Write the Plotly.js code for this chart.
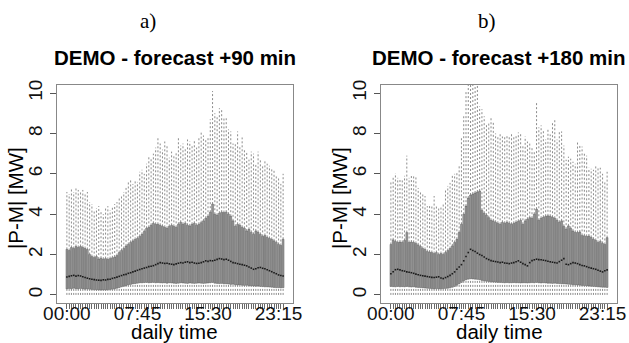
<!DOCTYPE html>
<html>
<head>
<meta charset="utf-8">
<script src="https://cdn.plot.ly/plotly-3.0.1.min.js"></script>
<style>
  html, body { margin: 0; padding: 0; background: #fff; }
  #chart { width: 629px; height: 343px; }
</style>
</head>
<body>
<div id="chart"></div>
<script>
// ---- categories: 96 quarter-hour slots ----
const slotTimes = [];
for (let h = 0; h < 24; h++) {
  for (let m = 0; m < 60; m += 15) {
    slotTimes.push(String(h).padStart(2, '0') + ':' + String(m).padStart(2, '0'));
  }
}
const shownTickLabels = ['00:00', '07:45', '15:30', '23:15'];
const yTickValues = [0, 2, 4, 6, 8, 10];

const panelLabels = ['a)', 'b)'];
const panelTitles = ['DEMO - forecast +90 min', 'DEMO - forecast +180 min'];
const xTitle = 'daily time';
const yTitle = '|P-M| [MW]';

// ---- panel a: forecast +90 min ----
const upperA = [5.1,5.0,5.25,5.1,5.35,5.2,5.1,5.2,5.0,5.1,
  4.6,4.5,4.2,4.3,4.4,4.2,4.0,4.3,4.4,4.2,
  4.4,4.5,4.6,4.8,4.9,5.1,5.3,5.6,5.75,5.5,
  5.7,5.6,6.1,6.2,6.0,6.5,6.9,6.8,7.0,7.3,
  7.8,7.5,7.2,7.6,7.4,6.8,7.1,6.9,7.1,7.8,
  7.4,7.5,7.3,7.7,7.6,7.4,7.7,7.3,7.8,8.1,
  7.9,7.7,7.8,8.7,10.1,9.0,8.8,9.25,9.2,8.8,
  8.75,8.2,8.1,7.5,7.5,8.1,7.4,7.8,7.2,7.1,
  6.7,7.1,7.0,6.5,7.1,6.7,6.4,6.7,6.5,6.4,
  6.3,6.2,5.9,5.8,5.5,6.0];
const q3A = [2.26,2.2,2.35,2.3,2.4,2.35,2.4,2.35,2.3,2.25,
  2.0,1.9,1.85,1.9,1.78,1.82,1.77,1.8,1.76,1.8,
  1.84,1.88,1.95,2.1,2.2,2.3,2.43,2.5,2.6,2.68,
  2.75,2.8,2.9,3.0,3.15,3.3,3.35,3.45,3.55,3.5,
  3.5,3.45,3.4,3.35,3.3,3.4,3.45,3.4,3.35,3.5,
  3.6,3.5,3.55,3.45,3.42,3.5,3.55,3.45,3.5,3.58,
  3.67,3.8,3.9,4.1,4.5,4.0,3.95,4.05,4.1,4.08,
  4.1,4.0,3.9,3.67,3.4,3.5,3.45,3.35,3.3,3.17,
  3.25,3.1,3.0,3.17,3.1,3.0,2.9,2.95,2.85,2.8,
  2.75,2.68,2.6,2.5,2.45,2.76];
const medianA = [0.89,0.92,0.95,0.97,0.93,0.96,0.94,0.9,0.86,0.83,
  0.8,0.78,0.76,0.74,0.73,0.72,0.75,0.74,0.77,0.78,
  0.82,0.85,0.88,0.92,0.96,1.0,1.02,1.07,1.1,1.14,
  1.18,1.22,1.26,1.3,1.33,1.36,1.4,1.42,1.45,1.5,
  1.55,1.6,1.58,1.56,1.57,1.54,1.52,1.5,1.54,1.57,
  1.6,1.58,1.62,1.64,1.6,1.62,1.58,1.56,1.57,1.6,
  1.64,1.69,1.66,1.7,1.69,1.72,1.76,1.8,1.78,1.75,
  1.77,1.72,1.66,1.6,1.58,1.55,1.52,1.5,1.47,1.44,
  1.38,1.33,1.27,1.3,1.35,1.36,1.32,1.3,1.25,1.2,
  1.15,1.1,1.05,0.99,0.96,0.94];
const q1A = [0.3,0.32,0.3,0.33,0.31,0.3,0.32,0.3,0.28,0.3,
  0.28,0.27,0.26,0.25,0.25,0.24,0.25,0.24,0.26,0.27,
  0.28,0.3,0.33,0.36,0.4,0.43,0.46,0.5,0.52,0.55,
  0.56,0.58,0.6,0.6,0.61,0.62,0.6,0.61,0.62,0.6,
  0.61,0.6,0.59,0.6,0.58,0.6,0.59,0.58,0.57,0.58,
  0.6,0.59,0.58,0.57,0.59,0.58,0.57,0.58,0.59,0.58,
  0.57,0.58,0.59,0.6,0.62,0.58,0.57,0.56,0.57,0.55,
  0.55,0.54,0.52,0.53,0.5,0.49,0.5,0.48,0.47,0.48,
  0.46,0.45,0.44,0.43,0.44,0.42,0.41,0.4,0.4,0.39,
  0.38,0.37,0.36,0.36,0.35,0.36];
const lowerA = [0,0,0,0,0,0,0,0,0,0, 0,0,0,0,0,0,0,0,0,0,
  0,0,0,0,0,0,0,0,0,0, 0,0,0,0,0,0,0,0,0,0,
  0,0,0,0,0,0,0,0,0,0, 0,0,0,0,0,0,0,0,0,0,
  0,0,0,0,0,0,0,0,0,0, 0,0,0,0,0,0,0,0,0,0,
  0,0,0,0,0,0,0,0,0,0, 0,0,0,0,0,0];

// ---- panel b: forecast +180 min ----
const upperB = [5.62,5.9,6.03,5.8,5.7,5.75,5.9,6.9,5.8,5.9,
  5.95,5.9,5.3,5.1,5.0,4.9,4.4,4.5,4.4,4.9,
  4.4,4.3,4.35,4.5,5.2,5.4,5.55,5.9,6.0,6.1,
  6.45,7.8,8.85,10.1,10.6,10.8,10.9,10.8,10.9,9.34,
  9.2,8.85,8.43,8.5,8.84,8.6,8.0,7.85,8.0,7.85,
  7.9,7.95,7.85,8.0,7.9,7.95,8.05,8.0,7.44,7.85,
  7.6,7.55,7.3,7.1,9.6,8.3,8.4,8.2,7.7,8.2,
  7.95,8.6,8.75,7.7,8.1,8.1,7.4,6.7,6.85,6.75,
  6.6,6.5,7.6,7.4,7.35,7.0,6.9,6.3,6.25,6.2,
  6.45,6.3,6.3,6.0,5.6,6.1];
const q3B = [2.5,2.73,2.65,2.6,2.62,2.6,2.7,3.09,2.6,2.62,
  2.6,2.55,2.48,2.4,2.3,2.25,2.15,2.12,2.1,2.05,
  2.1,2.0,2.05,2.0,2.1,2.2,2.3,2.43,2.6,2.76,
  3.1,3.5,4.0,4.4,4.8,4.95,5.0,5.05,5.1,5.15,
  4.2,4.05,3.95,3.83,3.7,3.67,3.6,3.55,3.5,3.6,
  3.55,3.6,3.55,3.5,3.55,3.6,3.65,3.7,3.5,3.67,
  3.75,3.83,3.8,4.0,4.25,3.7,3.8,3.85,3.9,3.92,
  3.9,3.85,3.8,3.7,3.6,3.67,3.4,3.26,3.42,3.3,
  3.17,3.1,3.09,3.12,2.95,2.93,2.9,2.92,2.85,2.76,
  2.7,2.6,2.65,2.55,2.5,2.84];
const medianB = [1.05,1.15,1.25,1.27,1.24,1.2,1.18,1.14,1.12,1.1,
  1.07,1.03,1.0,0.97,0.95,0.93,0.91,0.89,0.87,0.86,
  0.88,0.9,0.84,0.81,0.86,0.91,0.97,1.05,1.14,1.27,
  1.38,1.5,1.69,1.9,2.1,2.26,2.2,2.15,2.07,2.0,
  1.95,1.88,1.8,1.75,1.7,1.67,1.65,1.63,1.6,1.62,
  1.58,1.57,1.55,1.58,1.6,1.64,1.69,1.62,1.55,1.5,
  1.44,1.6,1.7,1.74,1.77,1.75,1.74,1.72,1.7,1.67,
  1.64,1.62,1.6,1.58,1.65,1.72,1.8,1.52,1.5,1.55,
  1.6,1.58,1.55,1.5,1.46,1.44,1.4,1.36,1.33,1.3,
  1.27,1.22,1.18,1.14,1.2,1.24];
const q1B = [0.42,0.41,0.4,0.42,0.4,0.41,0.4,0.42,0.4,0.39,
  0.4,0.38,0.37,0.36,0.35,0.34,0.33,0.32,0.31,0.3,
  0.31,0.3,0.3,0.31,0.32,0.33,0.35,0.38,0.42,0.48,
  0.55,0.62,0.7,0.75,0.78,0.8,0.79,0.78,0.77,0.75,
  0.72,0.7,0.68,0.66,0.65,0.64,0.63,0.62,0.62,0.61,
  0.6,0.61,0.6,0.6,0.61,0.6,0.6,0.59,0.6,0.6,
  0.59,0.6,0.61,0.6,0.62,0.6,0.59,0.6,0.59,0.58,
  0.58,0.57,0.58,0.57,0.56,0.55,0.55,0.54,0.53,0.52,
  0.5,0.5,0.49,0.48,0.47,0.46,0.45,0.44,0.43,0.42,
  0.41,0.4,0.39,0.38,0.38,0.37];
const lowerB = [0,0,0,0,0,0,0,0,0,0, 0,0,0,0,0,0,0,0,0,0,
  0,0,0,0,0,0,0,0,0,0, 0,0,0,0,0,0,0,0,0,0,
  0,0,0,0,0,0,0,0,0,0, 0,0,0,0,0,0,0,0,0,0,
  0,0,0,0,0,0,0,0,0,0, 0,0,0,0,0,0,0,0,0,0,
  0,0,0,0,0,0,0,0,0,0, 0,0,0,0,0,0];

// ---- build traces ----
const W = 629, H = 343;
const FONT = 'Liberation Sans, Arial, Helvetica, sans-serif';

function panelTraces(xa, ya, up, q3, med, q1, lo) {
  const wx = [], wy = [];
  slotTimes.forEach((t, i) => {
    wx.push(t, t, null, t, t, null);
    wy.push(q3[i], up[i], null, lo[i], q1[i], null);
  });
  const whiskers = {
    type: 'scatter', mode: 'lines', x: wx, y: wy, xaxis: xa, yaxis: ya,
    line: { color: '#6e6e6e', width: 0.8, dash: '2px,2px' },
    hoverinfo: 'skip', connectgaps: false
  };
  const boxes = {
    type: 'bar', x: slotTimes, base: q1, y: q3.map((v, i) => v - q1[i]),
    xaxis: xa, yaxis: ya, width: 0.8,
    marker: { color: '#9a9a9a', line: { color: '#3a3a3a', width: 0.4 } },
    hoverinfo: 'skip'
  };
  const medians = {
    type: 'scatter', mode: 'markers', x: slotTimes, y: med, xaxis: xa, yaxis: ya,
    marker: { symbol: 'square', size: 1.6, color: '#1a1a1a', line: { width: 0 } },
    hoverinfo: 'skip'
  };
  return [whiskers, boxes, medians];
}

const data = [
  ...panelTraces('x', 'y', upperA, q3A, medianA, q1A, lowerA),
  ...panelTraces('x2', 'y2', upperB, q3B, medianB, q1B, lowerB)
];

const tickText = slotTimes.map(t => shownTickLabels.includes(t) ? t : '');

function xAxis(domain, anchor) {
  return {
    domain: domain, anchor: anchor, type: 'category',
    range: [-4.34, 99.34], fixedrange: true,
    tickmode: 'array', tickvals: slotTimes, ticktext: tickText,
    ticks: 'outside', ticklen: 5, tickwidth: 0.8, tickcolor: '#444',
    tickfont: { family: FONT, size: 19, color: '#111' },
    tickangle: 0, ticklabelstandoff: -12,
    showline: true, mirror: true, linecolor: '#888', linewidth: 1,
    showgrid: false, zeroline: false
  };
}
function yAxis(domain, anchor) {
  return {
    domain: domain, anchor: anchor, range: [-0.4, 10.4], fixedrange: true,
    tickmode: 'array', tickvals: yTickValues, ticktext: yTickValues.map(String),
    ticks: 'outside', ticklen: 6, tickwidth: 1, tickcolor: '#555',
    tickangle: -90,
    tickfont: { family: FONT, size: 19, color: '#111' },
    showline: true, mirror: true, linecolor: '#888', linewidth: 1,
    showgrid: false, zeroline: false
  };
}

const yDom = [(H - 303) / H, (H - 85) / H];
const panels = [
  { left: 57, right: 293, labelX: 148 },
  { left: 381, right: 617, labelX: 487 }
];

const annotations = [];
panels.forEach((p, k) => {
  const cx = (p.left + p.right) / 2;
  annotations.push({
    xref: 'paper', yref: 'paper', x: p.labelX / W, y: 1 - 21 / H,
    xanchor: 'center', yanchor: 'middle', showarrow: false,
    text: panelLabels[k], font: { family: 'Liberation Serif, Times New Roman, serif', size: 21, color: '#000' }
  });
  annotations.push({
    xref: 'paper', yref: 'paper', x: cx / W, y: 1 - 57.5 / H,
    xanchor: 'center', yanchor: 'middle', showarrow: false,
    text: '<b>' + panelTitles[k] + '</b>', font: { family: FONT, size: 20.5, color: '#000' }
  });
  annotations.push({
    xref: 'paper', yref: 'paper', x: cx / W, y: 1 - 331 / H,
    xanchor: 'center', yanchor: 'middle', showarrow: false,
    text: xTitle, font: { family: FONT, size: 20.5, color: '#000' }
  });
  annotations.push({
    xref: 'paper', yref: 'paper', x: (p.left - 42) / W, y: 1 - 198 / H,
    xanchor: 'center', yanchor: 'middle', showarrow: false, textangle: -90,
    text: yTitle, font: { family: FONT, size: 20.5, color: '#000' }
  });
});

const layout = {
  width: W, height: H,
  margin: { l: 0, r: 0, t: 0, b: 0, pad: 0 },
  paper_bgcolor: '#fff', plot_bgcolor: '#fff',
  showlegend: false, barmode: 'overlay',
  xaxis: xAxis([panels[0].left / W, panels[0].right / W], 'y'),
  yaxis: yAxis(yDom, 'x'),
  xaxis2: xAxis([panels[1].left / W, panels[1].right / W], 'y2'),
  yaxis2: yAxis(yDom, 'x2'),
  annotations: annotations
};

Plotly.newPlot('chart', data, layout, { displayModeBar: false, staticPlot: true });
</script>
</body>
</html>
